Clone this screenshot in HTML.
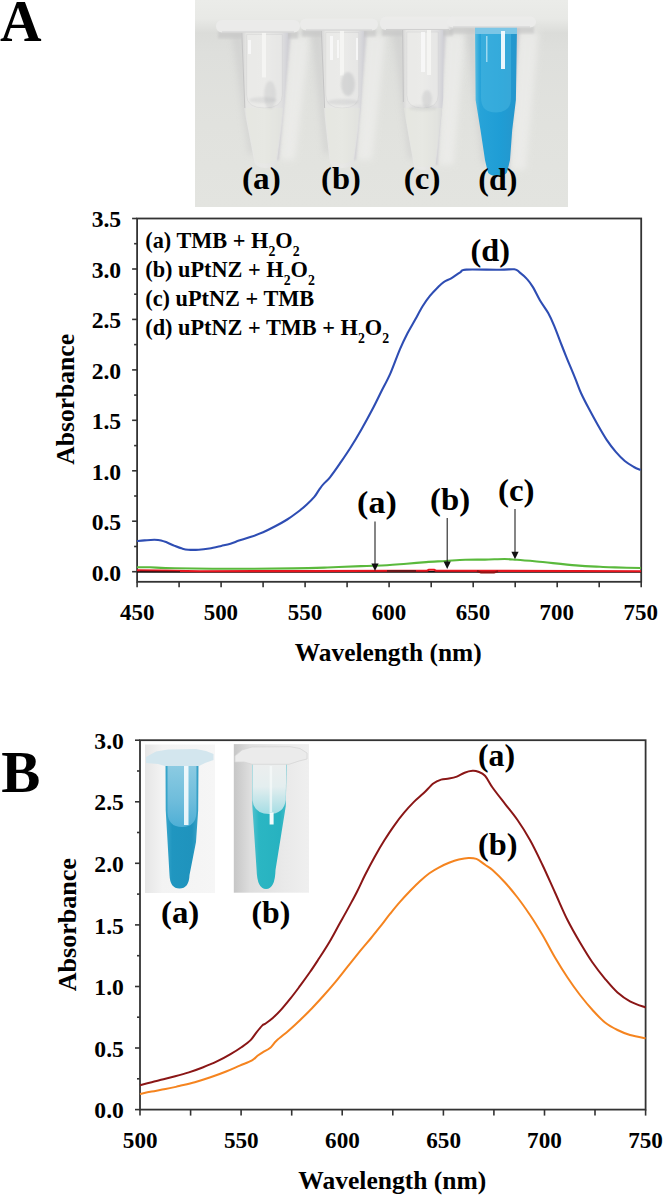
<!DOCTYPE html>
<html><head><meta charset="utf-8"><style>
html,body{margin:0;padding:0;background:#fff;}
body{width:664px;height:1197px;overflow:hidden;}
svg{display:block;}
text{font-family:"Liberation Serif",serif;font-weight:bold;fill:#000;}
</style></head><body>
<svg width="664" height="1197" viewBox="0 0 664 1197">
<text transform="translate(-0.06,40.60) scale(0.9760,1)" font-size="59">A</text>
<text transform="translate(1.33,792.40) scale(0.9937,1)" font-size="59">B</text>
<g id="photoA"><defs><linearGradient id="bgA" x1="0" y1="0" x2="0" y2="1"><stop offset="0" stop-color="#ebece9"/><stop offset="0.09" stop-color="#e8e9e6"/><stop offset="0.16" stop-color="#dbdcd9"/><stop offset="0.25" stop-color="#dedfdc"/><stop offset="0.6" stop-color="#e1e2de"/><stop offset="1" stop-color="#e3e4e0"/></linearGradient><linearGradient id="tubeClr" x1="0" y1="0" x2="1" y2="0"><stop offset="0" stop-color="#d2d2d2"/><stop offset="0.12" stop-color="#e6e6e4"/><stop offset="0.5" stop-color="#e8e8e6"/><stop offset="0.85" stop-color="#e0e0e0"/><stop offset="1" stop-color="#d0d0d6"/></linearGradient><linearGradient id="tubeD" x1="0" y1="0" x2="1" y2="0"><stop offset="0" stop-color="#57bde2"/><stop offset="0.12" stop-color="#27a3d8"/><stop offset="0.6" stop-color="#1f9dd5"/><stop offset="1" stop-color="#2596cc"/></linearGradient><linearGradient id="shR" x1="0" y1="0" x2="1" y2="0"><stop offset="0" stop-color="#bfbfc4" stop-opacity="0.7"/><stop offset="1" stop-color="#d0d0d0" stop-opacity="0"/></linearGradient><linearGradient id="shL" x1="1" y1="0" x2="0" y2="0"><stop offset="0" stop-color="#c4c4c4" stop-opacity="0.6"/><stop offset="1" stop-color="#d0d0d0" stop-opacity="0"/></linearGradient><linearGradient id="hiR" x1="0" y1="0" x2="1" y2="0"><stop offset="0" stop-color="#f2f2f0" stop-opacity="0"/><stop offset="0.5" stop-color="#f2f2f0" stop-opacity="0.6"/><stop offset="1" stop-color="#f2f2f0" stop-opacity="0"/></linearGradient><filter id="soft" x="-50%" y="-20%" width="200%" height="140%"><feGaussianBlur stdDeviation="3"/></filter><filter id="soft1" x="-50%" y="-20%" width="200%" height="140%"><feGaussianBlur stdDeviation="1"/></filter></defs>
<rect x="195" y="0" width="373" height="207" fill="url(#bgA)"/>
<path d="M290,36.5 L310,36.5 L295,160 L280,160 Z" fill="#efefed" opacity="0.7" filter="url(#soft)"/>
<path d="M287,32.5 L291,32.5 L279,160 L276,160 Z" fill="#c4c2cc" opacity="0.6" filter="url(#soft1)"/>
<path d="M232,34.5 L242,34.5 L255,154 L249,154 Z" fill="#c9c9c9" opacity="0.55" filter="url(#soft)"/>
<rect x="218" y="31.5" width="80" height="7" fill="#c4c4c4" opacity="0.6" filter="url(#soft1)"/>
<path d="M241,32 L244,108 L254,160 Q254.5,168 265.5,168 Q276.5,168 277,160 L277,160 L284,108 L288,32 Z" fill="url(#tubeClr)"/>
<path d="M246.64,34.5 L246.64,95 Q246.64,108 264.5,108 Q282.36,108 282.36,95 L282.36,34.5 Z" fill="#efefed" opacity="0.45" stroke="#c9c9cb" stroke-width="1" stroke-opacity="0.7"/>
<path d="M245,108 L283,108 L276,160 Q264.5,167 255,160 Z" fill="#e4e9de" opacity="0.35"/>
<rect x="262" y="32.5" width="4" height="45" fill="#f7f7f5" opacity="0.85"/>
<line x1="241.8" y1="32.5" x2="244.8" y2="108" stroke="#c4c4c4" stroke-width="1"/>
<rect x="216" y="20" width="84" height="12.5" rx="6" fill="#ebebea" opacity="0.92"/>
<line x1="222" y1="32.0" x2="294" y2="32.0" stroke="#d0d0d0" stroke-width="1"/>
<path d="M366,34.5 L386,34.5 L372,160 L357,160 Z" fill="#efefed" opacity="0.7" filter="url(#soft)"/>
<path d="M363,30.5 L367,30.5 L356,160 L353,160 Z" fill="#c4c2cc" opacity="0.6" filter="url(#soft1)"/>
<path d="M311.5,32.5 L321.5,32.5 L330.5,154 L324.5,154 Z" fill="#c9c9c9" opacity="0.55" filter="url(#soft)"/>
<rect x="302" y="29.5" width="74" height="7" fill="#c4c4c4" opacity="0.6" filter="url(#soft1)"/>
<path d="M320.5,30 L323.8,108 L329.5,160 Q330.0,168 341.75,168 Q353.5,168 354,160 L354,160 L361,108 L364,30 Z" fill="url(#tubeClr)"/>
<path d="M325.72,32.5 L325.72,95 Q325.72,108 342.25,108 Q358.78,108 358.78,95 L358.78,32.5 Z" fill="#efefed" opacity="0.45" stroke="#c9c9cb" stroke-width="1" stroke-opacity="0.7"/>
<path d="M324.8,108 L360,108 L353,160 Q342.25,167 330.5,160 Z" fill="#e4e9de" opacity="0.35"/>
<rect x="340" y="30.5" width="4" height="45" fill="#f7f7f5" opacity="0.85"/>
<line x1="321.3" y1="30.5" x2="324.6" y2="108" stroke="#c4c4c4" stroke-width="1"/>
<rect x="300" y="18.5" width="78" height="12.0" rx="6" fill="#ebebea" opacity="0.92"/>
<line x1="306" y1="30.0" x2="372" y2="30.0" stroke="#d0d0d0" stroke-width="1"/>
<path d="M445.2,34 L465.2,34 L453.6,165 L438.6,165 Z" fill="#efefed" opacity="0.7" filter="url(#soft)"/>
<path d="M442.2,30 L446.2,30 L437.6,165 L434.6,165 Z" fill="#c4c2cc" opacity="0.6" filter="url(#soft1)"/>
<path d="M392.8,32 L402.8,32 L414.8,159 L408.8,159 Z" fill="#c9c9c9" opacity="0.55" filter="url(#soft)"/>
<rect x="382" y="29" width="71" height="7" fill="#c4c4c4" opacity="0.6" filter="url(#soft1)"/>
<path d="M401.8,30 L402.6,102 L413.8,165 Q414.3,170 424.70000000000005,170 Q435.1,170 435.6,165 L435.6,165 L439.4,135 L443.2,98 L443.2,30 Z" fill="url(#tubeClr)"/>
<path d="M406.76800000000003,32 L406.76800000000003,95 Q406.76800000000003,108 422.5,108 Q438.23199999999997,108 438.23199999999997,95 L438.23199999999997,32 Z" fill="#efefed" opacity="0.45" stroke="#c9c9cb" stroke-width="1" stroke-opacity="0.7"/>
<path d="M403.6,108 L442.2,108 L434.6,165 Q422.5,169 414.8,165 Z" fill="#e4e9de" opacity="0.35"/>
<rect x="427" y="30" width="4" height="45" fill="#f7f7f5" opacity="0.85"/>
<line x1="402.6" y1="30" x2="403.40000000000003" y2="102" stroke="#c4c4c4" stroke-width="1"/>
<rect x="380" y="16.5" width="75" height="13.5" rx="6" fill="#ebebea" opacity="0.92"/>
<line x1="386" y1="29.5" x2="449" y2="29.5" stroke="#d0d0d0" stroke-width="1"/>
<path d="M519,31.5 L539,31.5 L525.6,170 L510.6,170 Z" fill="#efefed" opacity="0.7" filter="url(#soft)"/>
<path d="M516,27.5 L520,27.5 L509.6,170 L506.6,170 Z" fill="#c4c2cc" opacity="0.6" filter="url(#soft1)"/>
<path d="M466,29.5 L476,29.5 L488.3,164 L482.3,164 Z" fill="#c9c9c9" opacity="0.55" filter="url(#soft)"/>
<rect x="449" y="26.5" width="85" height="7" fill="#c4c4c4" opacity="0.6" filter="url(#soft1)"/>
<path d="M475,27 L475.6,100 L480.5,130 L485,160 L487.3,170 Q487.8,176 497.45000000000005,176 Q507.1,176 507.6,170 L507.6,170 L510,160 L512.2,130 L515.9,100 L517,27 Z" fill="url(#tubeD)"/>
<path d="M475,27 L517,27 L517,34 L475,34 Z" fill="#7cc6e6"/>
<path d="M481,34 L481,98 Q481,112.5 496,112.5 Q511,112.5 511,98 L511,34 Z" fill="#4ab8e2" opacity="0.5"/>
<rect x="501" y="31" width="4" height="38" fill="#f4fbff" opacity="0.95"/>
<rect x="486" y="36" width="1.5" height="26" fill="#c9ecf8" opacity="0.7"/>
<rect x="447" y="16.3" width="89" height="11.2" rx="6" fill="#ebebea" opacity="0.92"/>
<line x1="453" y1="27.0" x2="530" y2="27.0" stroke="#d0d0d0" stroke-width="1"/>
<ellipse cx="270" cy="95" rx="6" ry="14" fill="#8e9096" opacity="0.16" filter="url(#soft1)"/>
<ellipse cx="263" cy="100" rx="14" ry="3" fill="#8e9096" opacity="0.14" filter="url(#soft1)"/>
<ellipse cx="348" cy="84" rx="7" ry="12" fill="#8e9096" opacity="0.22" filter="url(#soft1)"/>
<ellipse cx="343" cy="102" rx="16" ry="3" fill="#8e9096" opacity="0.16" filter="url(#soft1)"/>
<ellipse cx="427" cy="99" rx="5" ry="9" fill="#8e9096" opacity="0.18" filter="url(#soft1)"/>
<ellipse cx="423" cy="108" rx="14" ry="3" fill="#8e9096" opacity="0.12" filter="url(#soft1)"/>
<rect x="248" y="40" width="3" height="14" fill="#fafafa" opacity="0.8"/>
<rect x="330" y="36" width="3" height="24" fill="#fafafa" opacity="0.8"/>
<rect x="337" y="40" width="2" height="18" fill="#fafafa" opacity="0.8"/>
<rect x="356" y="38" width="2" height="22" fill="#fafafa" opacity="0.8"/>
<rect x="421" y="32" width="4" height="40" fill="#fafafa" opacity="0.8"/></g>
<text transform="translate(241.94,189.20) scale(1.0741,1)" font-size="31">(a)</text>
<text transform="translate(321.07,189.20) scale(1.0494,1)" font-size="31">(b)</text>
<text transform="translate(403.85,189.20) scale(1.0637,1)" font-size="31">(c)</text>
<text transform="translate(478.29,189.60) scale(1.0323,1)" font-size="31">(d)</text>
<rect x="137.1" y="218.5" width="504.1" height="363.3" fill="none" stroke="#333" stroke-width="1.8"/>
<line x1="132.1" y1="571.7" x2="137.1" y2="571.7" stroke="#333" stroke-width="1.6"/>
<line x1="134.1" y1="546.5" x2="137.1" y2="546.5" stroke="#333" stroke-width="1.6"/>
<line x1="132.1" y1="521.2" x2="137.1" y2="521.2" stroke="#333" stroke-width="1.6"/>
<line x1="134.1" y1="496.0" x2="137.1" y2="496.0" stroke="#333" stroke-width="1.6"/>
<line x1="132.1" y1="470.8" x2="137.1" y2="470.8" stroke="#333" stroke-width="1.6"/>
<line x1="134.1" y1="445.6" x2="137.1" y2="445.6" stroke="#333" stroke-width="1.6"/>
<line x1="132.1" y1="420.3" x2="137.1" y2="420.3" stroke="#333" stroke-width="1.6"/>
<line x1="134.1" y1="395.1" x2="137.1" y2="395.1" stroke="#333" stroke-width="1.6"/>
<line x1="132.1" y1="369.9" x2="137.1" y2="369.9" stroke="#333" stroke-width="1.6"/>
<line x1="134.1" y1="344.6" x2="137.1" y2="344.6" stroke="#333" stroke-width="1.6"/>
<line x1="132.1" y1="319.4" x2="137.1" y2="319.4" stroke="#333" stroke-width="1.6"/>
<line x1="134.1" y1="294.2" x2="137.1" y2="294.2" stroke="#333" stroke-width="1.6"/>
<line x1="132.1" y1="269.0" x2="137.1" y2="269.0" stroke="#333" stroke-width="1.6"/>
<line x1="134.1" y1="243.7" x2="137.1" y2="243.7" stroke="#333" stroke-width="1.6"/>
<line x1="132.1" y1="218.5" x2="137.1" y2="218.5" stroke="#333" stroke-width="1.6"/>
<text transform="translate(91.67,580.50) scale(1.0500,1)" font-size="22.5">0.0</text>
<text transform="translate(91.63,530.04) scale(1.0500,1)" font-size="22.5">0.5</text>
<text transform="translate(91.67,479.59) scale(1.0500,1)" font-size="22.5">1.0</text>
<text transform="translate(91.63,429.13) scale(1.0500,1)" font-size="22.5">1.5</text>
<text transform="translate(91.67,378.67) scale(1.0500,1)" font-size="22.5">2.0</text>
<text transform="translate(91.63,328.21) scale(1.0500,1)" font-size="22.5">2.5</text>
<text transform="translate(91.67,277.76) scale(1.0500,1)" font-size="22.5">3.0</text>
<text transform="translate(91.63,227.30) scale(1.0500,1)" font-size="22.5">3.5</text>
<line x1="137.1" y1="581.8" x2="137.1" y2="587.3" stroke="#333" stroke-width="1.6"/>
<line x1="179.1" y1="581.8" x2="179.1" y2="587.3" stroke="#333" stroke-width="1.6"/>
<line x1="221.1" y1="581.8" x2="221.1" y2="587.3" stroke="#333" stroke-width="1.6"/>
<line x1="263.1" y1="581.8" x2="263.1" y2="587.3" stroke="#333" stroke-width="1.6"/>
<line x1="305.1" y1="581.8" x2="305.1" y2="587.3" stroke="#333" stroke-width="1.6"/>
<line x1="347.1" y1="581.8" x2="347.1" y2="587.3" stroke="#333" stroke-width="1.6"/>
<line x1="389.1" y1="581.8" x2="389.1" y2="587.3" stroke="#333" stroke-width="1.6"/>
<line x1="431.2" y1="581.8" x2="431.2" y2="587.3" stroke="#333" stroke-width="1.6"/>
<line x1="473.2" y1="581.8" x2="473.2" y2="587.3" stroke="#333" stroke-width="1.6"/>
<line x1="515.2" y1="581.8" x2="515.2" y2="587.3" stroke="#333" stroke-width="1.6"/>
<line x1="557.2" y1="581.8" x2="557.2" y2="587.3" stroke="#333" stroke-width="1.6"/>
<line x1="599.2" y1="581.8" x2="599.2" y2="587.3" stroke="#333" stroke-width="1.6"/>
<line x1="641.2" y1="581.8" x2="641.2" y2="587.3" stroke="#333" stroke-width="1.6"/>
<text transform="translate(119.97,619.70) scale(1.0200,1)" font-size="22.5">450</text>
<text transform="translate(203.68,619.70) scale(1.0200,1)" font-size="22.5">500</text>
<text transform="translate(287.70,619.70) scale(1.0200,1)" font-size="22.5">550</text>
<text transform="translate(371.78,619.70) scale(1.0200,1)" font-size="22.5">600</text>
<text transform="translate(455.80,619.70) scale(1.0200,1)" font-size="22.5">650</text>
<text transform="translate(539.55,619.70) scale(1.0200,1)" font-size="22.5">700</text>
<text transform="translate(623.57,619.70) scale(1.0200,1)" font-size="22.5">750</text>
<text transform="translate(294.74,660.60) scale(1.0166,1)" font-size="25">Wavelength (nm)</text>
<text transform="translate(74.20,464.75) rotate(-90) scale(1.0076,1)" font-size="25.4">Absorbance</text>
<polyline points="137.0,571.8 641.0,571.8" fill="none" stroke="#111" stroke-width="1.8"/>
<path d="M137.0,567.2 C139.2,567.2 143.7,567.1 150.0,567.3 C156.3,567.5 160.5,568.0 175.0,568.3 C189.5,568.5 217.2,568.8 237.0,568.8 C256.8,568.8 278.4,568.6 293.5,568.4 C308.6,568.2 316.1,567.9 327.4,567.5 C338.7,567.1 351.3,566.5 361.2,566.1 C371.1,565.7 379.4,565.7 387.0,565.3 C394.6,564.9 400.1,564.2 406.6,563.7 C413.1,563.2 419.7,562.6 426.2,562.1 C432.7,561.6 439.2,561.4 445.7,561.0 C452.2,560.6 458.8,560.0 465.3,559.8 C471.8,559.6 478.4,559.7 484.9,559.6 C491.4,559.5 499.1,559.0 504.5,559.0 C509.9,559.0 511.6,559.4 517.0,559.8 C522.4,560.2 526.8,560.6 536.6,561.5 C546.4,562.4 565.2,564.5 575.8,565.4 C586.4,566.3 593.5,566.5 600.0,566.8 C606.5,567.1 608.1,567.2 614.9,567.4 C621.7,567.6 636.6,567.9 641.0,568.0" fill="none" stroke="#5ab93c" stroke-width="2.1"/>
<polyline points="137.0,570.2 160.0,570.6 200.0,571.2 300.0,571.1 400.0,570.8 427.0,570.7 429.0,569.8 434.0,569.8 436.0,570.7 641.0,571.3" fill="none" stroke="#e6141e" stroke-width="2.1" stroke-linejoin="round"/>
<polyline points="387,570.9 416,570.9" fill="none" stroke="#3a1a1a" stroke-width="1.6" opacity="0.8"/>
<polyline points="477,571 481,572.4 494,572.6 498,571.2" fill="none" stroke="#8a1515" stroke-width="2"/>
<polyline points="140,571.4 180,571.6" fill="none" stroke="#2a1010" stroke-width="1.4" opacity="0.7"/>
<path d="M137.0,541.0 C138.2,540.9 141.6,540.6 144.5,540.4 C147.4,540.2 151.5,539.8 154.3,539.8 C157.1,539.8 159.0,539.9 161.1,540.4 C163.2,540.9 164.8,541.6 167.1,542.5 C169.4,543.4 172.2,544.9 174.7,545.9 C177.2,546.9 179.9,548.0 182.2,548.6 C184.4,549.2 185.4,549.5 188.2,549.7 C190.9,549.9 195.2,549.9 198.7,549.7 C202.2,549.5 205.5,549.1 209.3,548.5 C213.1,547.9 217.8,546.7 221.3,545.9 C224.8,545.1 227.5,544.6 230.4,543.7 C233.3,542.8 235.6,541.8 239.0,540.6 C242.4,539.5 247.1,538.2 251.1,536.8 C255.1,535.4 259.1,534.0 263.1,532.3 C267.1,530.5 271.2,528.4 275.2,526.3 C279.2,524.2 283.4,521.9 287.2,519.5 C291.0,517.1 294.5,514.5 297.8,512.0 C301.1,509.5 304.1,506.9 306.8,504.4 C309.6,501.9 312.3,499.3 314.3,496.9 C316.3,494.5 317.4,492.2 318.9,490.1 C320.4,488.0 321.5,486.2 323.4,484.1 C325.2,482.0 327.3,480.7 330.0,477.3 C332.7,473.9 336.4,468.7 339.8,463.7 C343.2,458.7 347.0,453.2 350.6,447.5 C354.2,441.8 357.8,435.7 361.4,429.4 C365.0,423.1 369.0,415.8 372.3,409.5 C375.6,403.2 378.3,397.5 381.3,391.5 C384.3,385.5 387.3,380.5 390.4,373.4 C393.5,366.3 397.1,355.8 400.0,349.1 C402.9,342.4 405.0,338.2 407.5,333.3 C410.0,328.4 412.6,324.3 415.1,319.8 C417.6,315.3 420.1,310.2 422.6,306.2 C425.1,302.2 427.6,298.8 430.1,295.7 C432.6,292.6 435.4,289.7 437.7,287.4 C440.0,285.1 441.4,283.6 443.7,282.1 C445.9,280.6 448.4,279.9 451.2,278.3 C453.9,276.7 457.7,273.8 460.2,272.3 C462.7,270.9 459.7,270.0 466.3,269.6 C472.9,269.2 492.0,269.9 500.0,269.8 C508.0,269.8 511.0,268.9 514.3,269.3 C517.6,269.7 517.5,270.7 519.6,272.3 C521.7,273.9 524.9,276.6 527.1,279.1 C529.4,281.6 531.0,283.9 533.1,287.4 C535.2,290.9 537.4,295.9 539.9,300.2 C542.4,304.5 545.8,308.7 548.2,313.0 C550.6,317.3 552.0,320.5 554.2,325.8 C556.4,331.1 559.4,339.3 561.6,345.0 C563.8,350.7 565.4,354.6 567.6,360.1 C569.9,365.6 572.9,372.6 575.1,378.1 C577.4,383.6 578.8,388.2 581.1,393.2 C583.4,398.2 585.9,403.0 588.7,408.3 C591.5,413.6 594.7,419.5 597.7,424.8 C600.7,430.1 603.7,435.4 606.7,439.9 C609.7,444.4 612.8,448.4 615.8,451.9 C618.8,455.4 621.8,458.5 624.8,461.0 C627.8,463.5 631.3,465.5 633.9,467.0 C636.5,468.5 639.5,469.5 640.6,470.0" fill="none" stroke="#2e4db3" stroke-width="2.1" stroke-linejoin="round"/>
<text transform="translate(145.22,247.9) scale(1.0,1)" font-size="22.3"><tspan dy="0">(a) TMB + H</tspan><tspan font-size="13.8" dy="7.7">2</tspan><tspan dy="-7.7">O</tspan><tspan font-size="13.8" dy="7.7">2</tspan></text>
<text transform="translate(145.22,277.2) scale(1.0,1)" font-size="22.3"><tspan dy="0">(b) uPtNZ + H</tspan><tspan font-size="13.8" dy="7.7">2</tspan><tspan dy="-7.7">O</tspan><tspan font-size="13.8" dy="7.7">2</tspan></text>
<text transform="translate(145.22,306.1) scale(1.0,1)" font-size="22.3"><tspan dy="0">(c) uPtNZ + TMB</tspan></text>
<text transform="translate(145.22,335.4) scale(1.0,1)" font-size="22.3"><tspan dy="0">(d) uPtNZ + TMB + H</tspan><tspan font-size="13.8" dy="7.7">2</tspan><tspan dy="-7.7">O</tspan><tspan font-size="13.8" dy="7.7">2</tspan></text>
<text transform="translate(470.48,260.80) scale(1.0409,1)" font-size="31">(d)</text>
<text transform="translate(357.11,512.90) scale(1.0951,1)" font-size="31">(a)</text>
<text transform="translate(430.06,510.00) scale(1.0579,1)" font-size="31">(b)</text>
<text transform="translate(497.95,500.60) scale(1.0637,1)" font-size="31">(c)</text>
<line x1="375.0" y1="521.5" x2="375.0" y2="565" stroke="#222" stroke-width="1.1"/><polygon points="371.4,563.5 378.6,563.5 375.0,571" fill="#111"/>
<line x1="447.2" y1="518" x2="447.2" y2="563" stroke="#222" stroke-width="1.1"/><polygon points="443.59999999999997,561.5 450.8,561.5 447.2,569" fill="#111"/>
<line x1="515.0" y1="509" x2="515.0" y2="553.3" stroke="#222" stroke-width="1.1"/><polygon points="511.4,551.8 518.6,551.8 515.0,559.3" fill="#111"/>
<g id="photoB"><defs><linearGradient id="bgBa" x1="0" y1="0" x2="1" y2="0"><stop offset="0" stop-color="#e6e6e6"/><stop offset="0.25" stop-color="#f3f3f3"/><stop offset="1" stop-color="#f6f6f6"/></linearGradient><linearGradient id="bgBb" x1="0" y1="0" x2="1" y2="0"><stop offset="0" stop-color="#c6c6c6"/><stop offset="0.22" stop-color="#dedede"/><stop offset="0.65" stop-color="#e9e9e9"/><stop offset="1" stop-color="#efefef"/></linearGradient><linearGradient id="liqBa" x1="0" y1="0" x2="1" y2="0"><stop offset="0" stop-color="#3aa7cc"/><stop offset="0.2" stop-color="#2096c0"/><stop offset="0.8" stop-color="#1f93bd"/><stop offset="1" stop-color="#3aa3c8"/></linearGradient><linearGradient id="topBa" x1="0" y1="0" x2="0" y2="1"><stop offset="0" stop-color="#8ccbe2"/><stop offset="0.6" stop-color="#6dbcdb"/><stop offset="1" stop-color="#4eafd6"/></linearGradient><linearGradient id="liqBb" x1="0" y1="0" x2="1" y2="0"><stop offset="0" stop-color="#52c2cf"/><stop offset="0.2" stop-color="#2bb6c3"/><stop offset="0.8" stop-color="#27b2c0"/><stop offset="1" stop-color="#44bdca"/></linearGradient><linearGradient id="topBb" x1="0" y1="0" x2="0" y2="1"><stop offset="0" stop-color="#eceeee"/><stop offset="0.45" stop-color="#e4eeef"/><stop offset="1" stop-color="#a4dde4"/></linearGradient></defs>
<rect x="145" y="744.5" width="70" height="148.5" fill="url(#bgBa)"/>
<path d="M165.5,765 L165.7,810 L169.5,875 Q170.0,888.5 179.5,888.5 Q189.0,888.5 189.5,875 L189.5,875 L196,842 L198.2,810 L198.5,765 Z" fill="url(#liqBa)"/>
<path d="M167.5,765 L167.5,812 Q168,827 182,827 Q196,827 196.5,812 L196.5,765 Z" fill="url(#topBa)"/>
<rect x="184" y="760" width="4.5" height="65" fill="#ffffff" opacity="0.85"/>
<polygon points="146,757 156,751.5 168,749.5 196,749 206,751 213.5,754 213.5,760 205,763 199,766 165,766 158,764 146,763" fill="#d3e6ee"/>
<rect x="233.8" y="744.1" width="75.2" height="148.6" fill="url(#bgBb)"/>
<path d="M252,764 L252.3,806 L256.6,870 Q257.1,889 266.05,889 Q275.0,889 275.5,870 L275.5,870 L285.8,806 L286.6,764 Z" fill="url(#liqBb)"/>
<path d="M252.4,764 L252.4,800 Q254,814 269,814 Q284,814 285.8,800 L286.2,764 Z" fill="url(#topBb)"/>
<rect x="269.6" y="766" width="2.5" height="46" fill="#f6fbfb" opacity="0.7"/>
<rect x="269.6" y="812.5" width="4" height="12" fill="#ffffff" opacity="0.95"/>
<polygon points="235,756 242,750 252,747 290,746.7 300,748.5 307,753 307,759 299,761 289,764.3 252,764.3 244,762 235,762" fill="#ebebeb" stroke="#d6d6d6" stroke-width="0.8"/></g>
<rect x="140.0" y="740.2" width="505.6" height="369.4" fill="none" stroke="#333" stroke-width="1.8"/>
<line x1="135.0" y1="1109.6" x2="140.0" y2="1109.6" stroke="#333" stroke-width="1.6"/>
<line x1="137.0" y1="1078.8" x2="140.0" y2="1078.8" stroke="#333" stroke-width="1.6"/>
<line x1="135.0" y1="1048.0" x2="140.0" y2="1048.0" stroke="#333" stroke-width="1.6"/>
<line x1="137.0" y1="1017.2" x2="140.0" y2="1017.2" stroke="#333" stroke-width="1.6"/>
<line x1="135.0" y1="986.5" x2="140.0" y2="986.5" stroke="#333" stroke-width="1.6"/>
<line x1="137.0" y1="955.7" x2="140.0" y2="955.7" stroke="#333" stroke-width="1.6"/>
<line x1="135.0" y1="924.9" x2="140.0" y2="924.9" stroke="#333" stroke-width="1.6"/>
<line x1="137.0" y1="894.1" x2="140.0" y2="894.1" stroke="#333" stroke-width="1.6"/>
<line x1="135.0" y1="863.3" x2="140.0" y2="863.3" stroke="#333" stroke-width="1.6"/>
<line x1="137.0" y1="832.5" x2="140.0" y2="832.5" stroke="#333" stroke-width="1.6"/>
<line x1="135.0" y1="801.8" x2="140.0" y2="801.8" stroke="#333" stroke-width="1.6"/>
<line x1="137.0" y1="771.0" x2="140.0" y2="771.0" stroke="#333" stroke-width="1.6"/>
<line x1="135.0" y1="740.2" x2="140.0" y2="740.2" stroke="#333" stroke-width="1.6"/>
<text transform="translate(94.37,1118.20) scale(1.0500,1)" font-size="22.5">0.0</text>
<text transform="translate(94.33,1056.63) scale(1.0500,1)" font-size="22.5">0.5</text>
<text transform="translate(94.37,995.07) scale(1.0500,1)" font-size="22.5">1.0</text>
<text transform="translate(94.33,933.50) scale(1.0500,1)" font-size="22.5">1.5</text>
<text transform="translate(94.37,871.93) scale(1.0500,1)" font-size="22.5">2.0</text>
<text transform="translate(94.33,810.37) scale(1.0500,1)" font-size="22.5">2.5</text>
<text transform="translate(94.37,748.80) scale(1.0500,1)" font-size="22.5">3.0</text>
<line x1="140.0" y1="1109.6" x2="140.0" y2="1115.6" stroke="#333" stroke-width="1.6"/>
<line x1="190.6" y1="1109.6" x2="190.6" y2="1115.6" stroke="#333" stroke-width="1.6"/>
<line x1="241.1" y1="1109.6" x2="241.1" y2="1115.6" stroke="#333" stroke-width="1.6"/>
<line x1="291.7" y1="1109.6" x2="291.7" y2="1115.6" stroke="#333" stroke-width="1.6"/>
<line x1="342.2" y1="1109.6" x2="342.2" y2="1115.6" stroke="#333" stroke-width="1.6"/>
<line x1="392.8" y1="1109.6" x2="392.8" y2="1115.6" stroke="#333" stroke-width="1.6"/>
<line x1="443.4" y1="1109.6" x2="443.4" y2="1115.6" stroke="#333" stroke-width="1.6"/>
<line x1="493.9" y1="1109.6" x2="493.9" y2="1115.6" stroke="#333" stroke-width="1.6"/>
<line x1="544.5" y1="1109.6" x2="544.5" y2="1115.6" stroke="#333" stroke-width="1.6"/>
<line x1="595.0" y1="1109.6" x2="595.0" y2="1115.6" stroke="#333" stroke-width="1.6"/>
<line x1="645.6" y1="1109.6" x2="645.6" y2="1115.6" stroke="#333" stroke-width="1.6"/>
<text transform="translate(122.80,1148.30) scale(1.0300,1)" font-size="22.5">500</text>
<text transform="translate(223.92,1148.30) scale(1.0300,1)" font-size="22.5">550</text>
<text transform="translate(325.10,1148.30) scale(1.0300,1)" font-size="22.5">600</text>
<text transform="translate(426.22,1148.30) scale(1.0300,1)" font-size="22.5">650</text>
<text transform="translate(527.08,1148.30) scale(1.0300,1)" font-size="22.5">700</text>
<text transform="translate(628.20,1148.30) scale(1.0300,1)" font-size="22.5">750</text>
<text transform="translate(298.34,1188.90) scale(1.0220,1)" font-size="25">Wavelength (nm)</text>
<text transform="translate(76.10,991.25) rotate(-90) scale(1.0222,1)" font-size="25.5">Absorbance</text>
<path d="M140.0,1094.0 C141.9,1093.6 147.4,1092.4 151.7,1091.6 C155.9,1090.8 160.9,1090.0 165.5,1089.1 C170.1,1088.2 174.3,1087.2 179.2,1086.1 C184.1,1084.9 189.6,1083.7 194.8,1082.2 C200.0,1080.7 205.3,1079.1 210.5,1077.3 C215.7,1075.5 221.2,1073.5 226.1,1071.5 C231.0,1069.5 235.6,1067.4 239.8,1065.6 C244.1,1063.8 248.7,1062.3 251.6,1060.7 C254.5,1059.1 255.6,1057.3 257.5,1055.8 C259.4,1054.3 261.2,1053.2 263.3,1051.9 C265.4,1050.6 267.8,1049.9 270.0,1048.0 C272.2,1046.1 273.6,1043.4 276.7,1040.5 C279.8,1037.6 284.6,1034.1 288.5,1030.7 C292.4,1027.3 296.3,1023.8 300.2,1020.0 C304.1,1016.2 308.1,1012.3 312.0,1008.2 C315.9,1004.1 319.8,999.9 323.7,995.5 C327.6,991.1 331.6,986.5 335.5,981.8 C339.4,977.1 343.3,972.0 347.2,967.1 C351.1,962.2 355.1,957.2 359.0,952.4 C362.9,947.6 367.1,942.8 370.7,938.5 C374.3,934.2 377.1,930.5 380.4,926.4 C383.6,922.3 386.9,917.8 390.2,913.7 C393.5,909.6 396.7,905.6 400.0,901.9 C403.3,898.1 406.5,894.6 409.8,891.2 C413.1,887.8 416.3,884.4 419.6,881.4 C422.9,878.4 426.1,875.6 429.4,873.2 C432.7,870.9 435.9,869.0 439.2,867.3 C442.5,865.6 445.7,864.1 449.0,862.8 C452.3,861.5 455.6,860.3 458.8,859.5 C462.1,858.7 465.6,858.0 468.5,857.9 C471.4,857.8 473.6,857.8 476.4,858.9 C479.1,860.0 482.3,862.9 485.0,864.7 C487.7,866.6 489.2,867.0 492.5,870.0 C495.8,873.0 500.8,877.9 505.0,882.5 C509.2,887.1 513.3,892.1 517.5,897.5 C521.7,902.9 525.8,908.8 530.0,915.0 C534.2,921.2 538.3,927.9 542.5,935.0 C546.7,942.1 550.8,950.4 555.0,957.5 C559.2,964.6 563.3,971.2 567.5,977.5 C571.7,983.8 575.8,989.6 580.0,995.0 C584.2,1000.4 588.3,1005.4 592.5,1010.0 C596.7,1014.6 600.8,1019.2 605.0,1022.5 C609.2,1025.8 613.3,1027.9 617.5,1030.0 C621.7,1032.1 625.3,1033.6 630.0,1035.0 C634.7,1036.4 643.0,1037.8 645.6,1038.3" fill="none" stroke="#f5841f" stroke-width="2"/>
<path d="M140.0,1085.2 C141.9,1084.7 147.8,1083.2 151.7,1082.2 C155.6,1081.2 159.6,1080.3 163.5,1079.3 C167.4,1078.3 171.0,1077.4 175.2,1076.3 C179.4,1075.2 184.3,1073.9 188.9,1072.4 C193.5,1070.9 198.0,1069.3 202.6,1067.5 C207.2,1065.7 211.8,1063.9 216.4,1061.7 C221.0,1059.5 225.9,1056.9 230.1,1054.4 C234.3,1052.0 238.4,1049.4 241.8,1047.0 C245.2,1044.6 248.2,1042.5 250.6,1040.1 C253.0,1037.6 254.5,1034.8 256.5,1032.3 C258.5,1029.8 261.0,1026.8 262.4,1025.4 C263.8,1024.0 263.3,1025.1 265.0,1023.9 C266.7,1022.7 270.2,1020.3 272.8,1018.0 C275.4,1015.7 277.8,1013.5 280.7,1010.2 C283.6,1006.9 287.2,1002.5 290.5,998.4 C293.8,994.3 296.9,990.1 300.2,985.7 C303.4,981.3 306.7,976.7 310.0,972.0 C313.3,967.3 316.5,962.3 319.8,957.3 C323.1,952.2 326.3,947.2 329.6,941.7 C332.9,936.2 336.1,929.9 339.4,924.0 C342.7,918.1 346.3,911.8 349.2,906.4 C352.1,901.0 354.4,896.9 357.0,891.7 C359.6,886.6 361.9,881.3 364.8,875.5 C367.7,869.7 371.3,862.8 374.6,856.9 C377.9,851.0 381.1,845.5 384.4,840.3 C387.7,835.1 390.9,830.2 394.2,825.6 C397.4,821.0 400.6,816.8 403.9,812.9 C407.1,809.0 410.4,805.4 413.7,802.1 C417.0,798.8 420.2,796.4 423.5,793.3 C426.8,790.2 430.4,785.8 433.3,783.5 C436.2,781.2 438.5,780.4 441.1,779.6 C443.7,778.8 446.4,779.1 449.0,778.6 C451.6,778.1 454.2,777.6 456.8,776.6 C459.4,775.6 462.0,773.7 464.6,772.7 C467.2,771.7 470.2,771.0 472.5,770.8 C474.8,770.6 476.2,770.9 478.3,771.7 C480.4,772.5 482.6,773.1 485.0,775.7 C487.4,778.3 489.2,782.8 492.5,787.5 C495.8,792.2 500.8,798.4 505.0,803.8 C509.2,809.2 513.3,814.0 517.5,820.0 C521.7,826.0 525.8,832.5 530.0,840.0 C534.2,847.5 538.3,856.2 542.5,865.0 C546.7,873.8 550.8,883.3 555.0,892.5 C559.2,901.7 563.3,911.7 567.5,920.0 C571.7,928.3 575.8,935.4 580.0,942.5 C584.2,949.6 588.3,956.5 592.5,962.5 C596.7,968.5 600.8,973.8 605.0,978.8 C609.2,983.8 613.3,988.8 617.5,992.5 C621.7,996.2 625.3,998.8 630.0,1001.3 C634.7,1003.8 643.0,1006.5 645.6,1007.5" fill="none" stroke="#8a1616" stroke-width="2"/>
<text transform="translate(477.90,766.30) scale(1.0263,1)" font-size="31">(a)</text>
<text transform="translate(477.88,854.60) scale(1.0437,1)" font-size="31">(b)</text>
<text transform="translate(160.95,922.80) scale(1.0622,1)" font-size="31">(a)</text>
<text transform="translate(251.40,922.80) scale(1.0267,1)" font-size="31">(b)</text>
</svg></body></html>
